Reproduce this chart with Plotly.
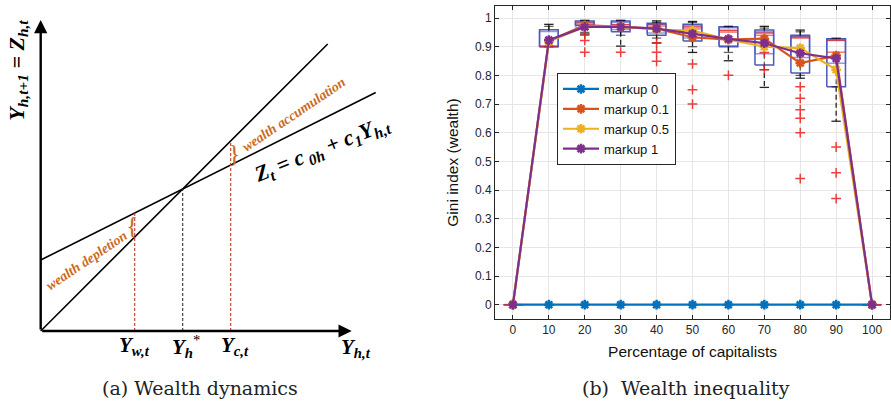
import numpy as np
import plotly.graph_objects as go

# ---------------- Panel (b): Gini index vs. share of capitalists ----------------
pct = [0, 10, 20, 30, 40, 50, 60, 70, 80, 90, 100]

gini_m0 = [0, 0, 0, 0, 0, 0, 0, 0, 0, 0, 0]
gini_m01 = [0, 0.920, 0.975, 0.970, 0.963, 0.933, 0.925, 0.928, 0.843, 0.869, 0]
gini_m05 = [0, 0.918, 0.970, 0.970, 0.960, 0.956, 0.925, 0.900, 0.895, 0.820, 0]
gini_m1 = [0, 0.923, 0.969, 0.969, 0.963, 0.945, 0.927, 0.912, 0.877, 0.859, 0]

series_names = ["markup 0", "markup 0.1", "markup 0.5", "markup 1"]
series_colors = ["#0072BD", "#D95319", "#EDB120", "#7E2F8E"]

# box-plot summaries (two overlaid sets of runs)
q1_a = [0, 0.900, 0.975, 0.952, 0.940, 0.920, 0.900, 0.836, 0.808, 0.760, 0]
med_a = [0, 0.900, 0.983, 0.977, 0.978, 0.969, 0.957, 0.948, 0.934, 0.922, 0]
q3_a = [0, 0.959, 0.990, 0.990, 0.982, 0.978, 0.970, 0.958, 0.940, 0.928, 0]
lo_a = [0, 0.900, 0.941, 0.902, 0.913, 0.880, 0.851, 0.758, 0.790, 0.640, 0]
hi_a = [0, 0.978, 0.992, 0.992, 0.990, 0.988, 0.971, 0.971, 0.958, 0.929, 0]

q1_b = [0, 0.902, 0.968, 0.960, 0.948, 0.930, 0.903, 0.875, 0.862, 0.842, 0]
med_b = [0, 0.902, 0.975, 0.970, 0.972, 0.962, 0.951, 0.940, 0.930, 0.881, 0]
q3_b = [0, 0.953, 0.986, 0.985, 0.978, 0.974, 0.966, 0.952, 0.936, 0.925, 0]
lo_b = [0, 0.902, 0.950, 0.940, 0.930, 0.900, 0.880, 0.820, 0.800, 0.760, 0]
hi_b = [0, 0.971, 0.990, 0.990, 0.985, 0.985, 0.970, 0.965, 0.952, 0.929, 0]

out_x = [20, 20, 20, 30, 40, 40, 40, 50, 50, 50, 60, 70, 70,
         80, 80, 80, 80, 80, 80, 90, 90, 90]
out_y = [0.945, 0.922, 0.881, 0.881, 0.913, 0.881, 0.849, 0.840, 0.750, 0.700,
         0.800, 0.820, 0.880, 0.760, 0.720, 0.680, 0.650, 0.600, 0.440,
         0.550, 0.460, 0.370]

y_ticks = [0, 0.1, 0.2, 0.3, 0.4, 0.5, 0.6, 0.7, 0.8, 0.9, 1]
y_tick_text = ["0", "0.1", "0.2", "0.3", "0.4", "0.5", "0.6", "0.7", "0.8", "0.9", "1"]

# ---------------- Panel (a): wealth dynamics diagram ----------------
c0h = 71.0          # intercept of the consumption line
c1 = 0.5            # slope of the consumption line
y_w = 94.0          # worker wealth
y_c = 190.0         # capitalist wealth
diag_end = 287.0    # extent of the 45-degree line
z_end = 335.0       # extent of the Z line
axis_len = 311.0    # length of the drawn axes

fig = go.Figure()

BW = 2.6  # half width of boxes (x units)


def add_boxes(q1, med, q3, lo, hi, box_col, alpha):
    bx, by, mx, my, wx, wy, cx, cy = [], [], [], [], [], [], [], []
    for p, a, m, b, l, h in zip(pct, q1, med, q3, lo, hi):
        bx += [p - BW, p + BW, p + BW, p - BW, p - BW, None]
        by += [a, a, b, b, a, None]
        mx += [p - BW, p + BW, None]
        my += [m, m, None]
        wx += [p, p, None, p, p, None]
        wy += [b, h, None, a, l, None]
        cx += [p - BW / 2, p + BW / 2, None, p - BW / 2, p + BW / 2, None]
        cy += [h, h, None, l, l, None]
    common = dict(mode="lines", showlegend=False, hoverinfo="skip",
                  xaxis="x", yaxis="y")
    fig.add_trace(go.Scatter(x=wx, y=wy, line=dict(color=f"rgba(0,0,0,{alpha})",
                  width=1.3, dash="5px,3px"), **common))
    fig.add_trace(go.Scatter(x=cx, y=cy, line=dict(color=f"rgba(0,0,0,{alpha})",
                  width=1.3), **common))
    fig.add_trace(go.Scatter(x=bx, y=by, line=dict(color=box_col, width=1.5), **common))
    fig.add_trace(go.Scatter(x=mx, y=my, line=dict(color=f"rgba(235,30,30,{alpha})",
                  width=1.5), **common))


add_boxes(q1_a, med_a, q3_a, lo_a, hi_a, "rgba(45,60,170,0.85)", 0.85)
add_boxes(q1_b, med_b, q3_b, lo_b, hi_b, "rgba(70,90,200,0.6)", 0.6)

fig.add_trace(go.Scatter(
    x=out_x, y=out_y, mode="markers", showlegend=False, hoverinfo="skip",
    marker=dict(symbol="cross-thin-open", size=7,
                line=dict(color="rgba(235,30,30,0.85)", width=1.5),
                color="rgba(235,30,30,0.85)"),
    xaxis="x", yaxis="y"))

for name, col, vals in zip(series_names, series_colors,
                           [gini_m0, gini_m01, gini_m05, gini_m1]):
    fig.add_trace(go.Scatter(
        x=pct, y=vals, name=name, mode="lines+markers",
        line=dict(color=col, width=2.2),
        marker=dict(symbol="asterisk-open", size=8, color=col,
                    line=dict(color=col, width=2.5)),
        xaxis="x", yaxis="y"))

# ---- diagram traces ----
xs45 = np.array([0.0, diag_end])
xsz = np.array([0.0, z_end])
fig.add_trace(go.Scatter(x=xs45, y=xs45, mode="lines", showlegend=False,
                         line=dict(color="black", width=1.6), hoverinfo="skip",
                         xaxis="x2", yaxis="y2"))
fig.add_trace(go.Scatter(x=xsz, y=c0h + c1 * xsz, mode="lines", showlegend=False,
                         line=dict(color="black", width=1.6), hoverinfo="skip",
                         xaxis="x2", yaxis="y2"))

y_star = c0h / (1 - c1)
guides = [(y_w, c0h + c1 * y_w, "#C0392B"),
          (y_star, y_star, "#333333"),
          (y_c, y_c, "#C0392B")]
for gx, gtop, gcol in guides:
    fig.add_trace(go.Scatter(x=[gx, gx], y=[0, gtop], mode="lines", showlegend=False,
                             line=dict(color=gcol, width=1.1, dash="3px,2px"),
                             hoverinfo="skip", xaxis="x2", yaxis="y2"))

serif = "Liberation Serif"
orange = "#CC6A1E"
ann = []
# axes arrows
ann.append(dict(x=axis_len, y=0, ax=0, ay=0, xref="x2", yref="y2", axref="x2",
                ayref="y2", showarrow=True, arrowhead=2, arrowsize=1.1,
                arrowwidth=2.4, arrowcolor="black", text=""))
ann.append(dict(x=0, y=axis_len, ax=0, ay=0, xref="x2", yref="y2", axref="x2",
                ayref="y2", showarrow=True, arrowhead=2, arrowsize=1.1,
                arrowwidth=2.4, arrowcolor="black", text=""))

math_font = dict(family=serif, size=21, color="black")
ann.append(dict(x=-23, y=261, xref="x2", yref="y2", showarrow=False, textangle=-90,
                text="<b><i>Y<sub>h,t+1</sub> = Z<sub>h,t</sub></i></b>",
                font=dict(family=serif, size=22, color="black")))
ann.append(dict(x=y_w, y=-15, xref="x2", yref="y2", showarrow=False,
                text="<b><i>Y<sub>w,t</sub></i></b>", font=math_font))
ann.append(dict(x=y_star + 3, y=-15, xref="x2", yref="y2", showarrow=False,
                text="<b><i>Y<sub>h</sub></i></b><sup>*</sup>", font=math_font))
ann.append(dict(x=y_c + 4, y=-15, xref="x2", yref="y2", showarrow=False,
                text="<b><i>Y<sub>c,t</sub></i></b>", font=math_font))
ann.append(dict(x=axis_len + 4, y=-17, xref="x2", yref="y2", showarrow=False,
                text="<b><i>Y<sub>h,t</sub></i></b>", font=math_font))
ann.append(dict(x=281, y=181, xref="x2", yref="y2", showarrow=False, textangle=-22,
                text="<b><i>Z<sub>t</sub> = c<sub> 0h</sub> + c<sub>1</sub>Y<sub>h,t</sub></i></b>",
                font=dict(family=serif, size=22, color="black")))
ann.append(dict(x=253, y=217, xref="x2", yref="y2", showarrow=False, textangle=-34,
                text="<b><i>wealth accumulation</i></b>",
                font=dict(family=serif, size=14, color=orange)))
ann.append(dict(x=46, y=71, xref="x2", yref="y2", showarrow=False, textangle=-34,
                text="<b><i>wealth depletion</i></b>",
                font=dict(family=serif, size=14, color=orange)))
ann.append(dict(x=y_c + 3, y=(y_c + c0h + c1 * y_c) / 2, xref="x2", yref="y2",
                showarrow=False, text="}",
                font=dict(family=serif, size=26, color=orange)))
ann.append(dict(x=y_w - 3, y=(y_w + c0h + c1 * y_w) / 2, xref="x2", yref="y2",
                showarrow=False, text="{",
                font=dict(family=serif, size=26, color=orange)))

# captions
cap_font = dict(family="DejaVu Serif", size=19, color="#222222")
ann.append(dict(x=200 / 891, y=1 - 388 / 404, xref="paper", yref="paper",
                xanchor="center", yanchor="middle",
                showarrow=False, text="(a) Wealth dynamics", font=cap_font))
ann.append(dict(x=686 / 891, y=1 - 388 / 404, xref="paper", yref="paper",
                xanchor="center", yanchor="middle",
                showarrow=False, text="(b)  Wealth inequality", font=cap_font))

axis_font = dict(family="Liberation Sans", size=12, color="#262626")
fig.update_layout(
    width=891, height=404,
    margin=dict(l=0, r=0, t=0, b=0),
    paper_bgcolor="white", plot_bgcolor="white",
    showlegend=True,
    legend=dict(x=557 / 891, y=1 - 73 / 404, xanchor="left", yanchor="top",
                bgcolor="white", bordercolor="#262626", borderwidth=1,
                font=dict(family="Liberation Sans", size=13, color="#111111"),
                tracegroupgap=0, itemwidth=36),
    xaxis=dict(domain=[495 / 891, 890 / 891], range=[-5, 105],
               tickvals=pct, ticks="inside", ticklen=4, tickcolor="#262626",
               showline=True, linecolor="#262626", linewidth=1, mirror="ticks",
               showgrid=True, gridcolor="#E6E6E6", zeroline=False,
               tickfont=axis_font,
               title=dict(text="Percentage of capitalists", standoff=9,
                          font=dict(family="Liberation Sans", size=15.5, color="#111111"))),
    yaxis=dict(domain=[1 - 319 / 404, 1 - 6 / 404], range=[-0.05, 1.042],
               tickvals=y_ticks, ticktext=y_tick_text, ticks="inside", ticklen=4,
               tickcolor="#262626", showline=True, linecolor="#262626", linewidth=1,
               mirror="ticks", showgrid=True, gridcolor="#E6E6E6", zeroline=False,
               tickfont=axis_font,
               title=dict(text="Gini index (wealth)", standoff=12,
                          font=dict(family="Liberation Sans", size=15.5, color="#111111"))),
    xaxis2=dict(domain=[0, 440 / 891], range=[-40.7, 399.3], visible=False,
                fixedrange=True, anchor="y2"),
    yaxis2=dict(domain=[0, 1], range=[-73, 331], visible=False, fixedrange=True,
                anchor="x2"),
    annotations=ann,
)

fig.write_html("out.html")
